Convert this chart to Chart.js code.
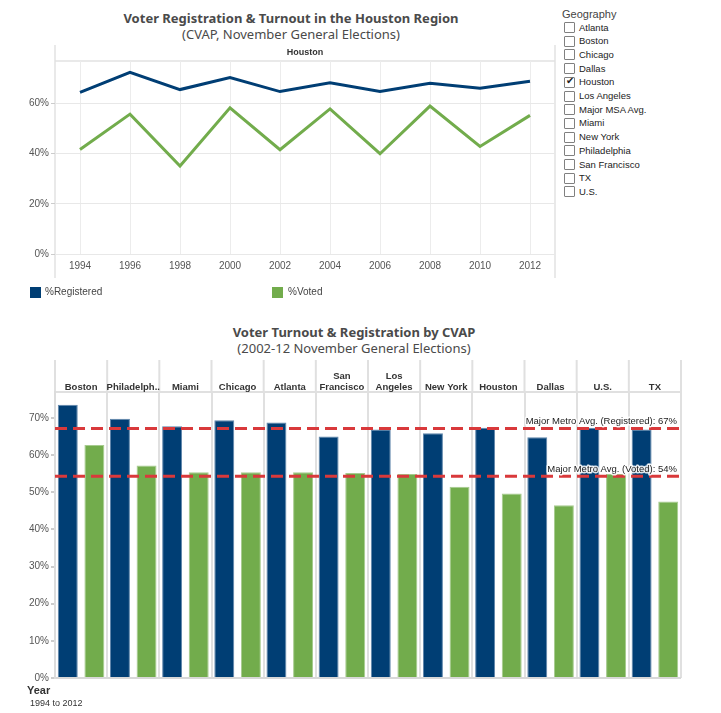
<!DOCTYPE html>
<html>
<head>
<meta charset="utf-8">
<script src="https://cdn.jsdelivr.net/npm/chart.js@4.4.0/dist/chart.umd.min.js"></script>
<style>
  body { margin: 0; background: #fff; width: 721px; height: 713px; position: relative; overflow: hidden; font-family: "Liberation Sans", Arial, sans-serif; }
  .abs { position: absolute; white-space: nowrap; }
  .title { font-family: "Noto Sans", sans-serif; font-size: 13px; color: #4a4a4a; text-align: center; line-height: 16px; }
  .title b { font-weight: 700; }
  #topCanvas { position: absolute; left: 0; top: 0; }
  #bottomCanvas { position: absolute; left: 0; top: 300px; }
  .geo { font-size: 9.5px; color: #222; }
  .box { position: absolute; width: 9px; height: 9px; border: 1px solid #808080; border-radius: 1px; background: #fff; }
  .swatch { position: absolute; width: 11px; height: 11px; }
</style>
</head>
<body>

<div class="abs title" style="left:91px; top:10px; width:400px;"><b>Voter Registration &amp; Turnout in the Houston Region</b><br>(CVAP, November General Elections)</div>
<div class="abs title" style="left:154px; top:324px; width:400px;"><b>Voter Turnout &amp; Registration by CVAP</b><br>(2002-12 November General Elections)</div>

<canvas id="topCanvas" width="560" height="300"></canvas>
<canvas id="bottomCanvas" width="721" height="413"></canvas>

<div id="geoPanel"></div>

<div class="swatch" style="left:30px; top:287px; background:#003e74;"></div>
<div class="abs" style="left:45px; top:286px; font-size:10px; color:#444;">%Registered</div>
<div class="swatch" style="left:272px; top:287px; background:#72ac4c;"></div>
<div class="abs" style="left:288px; top:286px; font-size:10px; color:#444;">%Voted</div>

<div class="abs" style="left:27px; top:684px; font-size:11px; font-weight:bold; color:#333;">Year</div>
<div class="abs" style="left:30px; top:698px; font-size:9px; color:#333;">1994 to 2012</div>

<script>
// ---- data: Houston trend ----
const years = ['1994', '1996', '1998', '2000', '2002', '2004', '2006', '2008', '2010', '2012'];
const houstonRegistered = [64.5, 72.5, 65.6, 70.4, 64.8, 68.3, 64.8, 68.1, 66.1, 68.9];
const houstonVoted = [41.7, 55.8, 35.1, 58.3, 41.6, 57.9, 40.0, 59.0, 42.9, 55.3];
const topTicks = [0, 20, 40, 60];

// ---- data: by geography ----
const regions = ['Boston', 'Philadelph..', 'Miami', 'Chicago', 'Atlanta', ['San', 'Francisco'],
                 ['Los', 'Angeles'], 'New York', 'Houston', 'Dallas', 'U.S.', 'TX'];
const regRegistered = [73.6, 69.8, 67.8, 69.4, 68.8, 65.0, 66.9, 65.9, 67.4, 64.8, 67.4, 66.9];
const regVoted = [62.7, 57.2, 55.4, 55.4, 55.4, 55.2, 54.9, 51.5, 49.7, 46.5, 54.9, 47.5];
const bottomTicks = [0, 10, 20, 30, 40, 50, 60, 70];
const avgValues = [67.2, 54.3];
const avgLabels = ['Major Metro Avg. (Registered): 67%', 'Major Metro Avg. (Voted): 54%'];

// ---- filter list ----
const geographies = ['Atlanta', 'Boston', 'Chicago', 'Dallas', 'Houston', 'Los Angeles', 'Major MSA Avg.',
                     'Miami', 'New York', 'Philadelphia', 'San Francisco', 'TX', 'U.S.'];
const selectedGeo = 'Houston';

const NAVY = '#003e74';
const GREEN = '#72ac4c';
const tickFont = { family: 'Liberation Sans', size: 10 };

// filter panel
(function () {
    const panel = document.getElementById('geoPanel');
    let html = '<div class="abs" style="left:562px; top:8px; font-size:11px; color:#444;">Geography</div>';
    geographies.forEach((g, i) => {
        const top = 22 + i * 13.7;
        const mark = g === selectedGeo ? '<span style="position:absolute;left:1px;top:-3px;font-size:10px;color:#222;">&#10004;</span>' : '';
        html += `<div class="box" style="left:564px; top:${top}px;">${mark}</div>`;
        html += `<div class="abs geo" style="left:579px; top:${top - 0.5}px;">${g}</div>`;
    });
    panel.innerHTML = html;
})();

// top chart: pane borders + header
const topFrame = {
    id: 'topFrame',
    beforeDraw(chart) {
        const { ctx, chartArea: a } = chart;
        ctx.save();
        ctx.strokeStyle = '#e2e2e2';
        ctx.lineWidth = 1.5;
        ctx.beginPath();
        ctx.moveTo(a.left, 45); ctx.lineTo(a.left, 278);
        ctx.moveTo(a.right, 45); ctx.lineTo(a.right, 278);
        ctx.moveTo(a.left, a.top); ctx.lineTo(a.right, a.top);
        ctx.stroke();
        ctx.fillStyle = '#333';
        ctx.font = 'bold 9px "Liberation Sans"';
        ctx.textAlign = 'center';
        ctx.textBaseline = 'middle';
        ctx.fillText(selectedGeo, (a.left + a.right) / 2, 53);
        ctx.restore();
    }
};

new Chart(document.getElementById('topCanvas'), {
    type: 'line',
    data: {
        labels: years,
        datasets: [
            { label: '%Registered', data: houstonRegistered, borderColor: NAVY, borderWidth: 3, pointRadius: 0, tension: 0 },
            { label: '%Voted', data: houstonVoted, borderColor: GREEN, borderWidth: 3, pointRadius: 0, tension: 0 }
        ]
    },
    options: {
        responsive: false,
        animation: false,
        layout: { padding: { top: 61, right: 5, left: 0, bottom: 0 } },
        plugins: { legend: { display: false }, tooltip: { enabled: false } },
        scales: {
            x: {
                offset: true,
                grid: { color: '#ececec', offset: false, drawTicks: false },
                border: { display: false },
                ticks: { color: '#555', font: tickFont, padding: 6 },
                afterFit: s => { s.height = 46; }
            },
            y: {
                min: 0, max: 77,
                afterBuildTicks: s => { s.ticks = topTicks.map(v => ({ value: v })); },
                grid: { color: '#e8e8e8', tickLength: 4, tickColor: '#ccc' },
                border: { display: false },
                ticks: { color: '#555', font: tickFont, padding: 2, callback: v => v + '%' },
                afterFit: s => { s.width = 55; }
            }
        }
    },
    plugins: [topFrame]
});

// bottom chart: headers + average lines
const bottomDecor = {
    id: 'bottomDecor',
    beforeDraw(chart) {
        const { ctx, chartArea: a } = chart;
        const xs = chart.scales.x;
        const half = (xs.getPixelForValue(1) - xs.getPixelForValue(0)) / 2;
        ctx.save();
        ctx.strokeStyle = '#e0e0e0';
        ctx.lineWidth = 2;
        ctx.beginPath();
        for (let i = 0; i <= regions.length; i++) {
            const x = xs.getPixelForValue(0) - half + i * half * 2;
            ctx.moveTo(x, 60); ctx.lineTo(x, a.top);
        }
        ctx.moveTo(a.left, a.top); ctx.lineTo(a.right, a.top);
        ctx.stroke();
        ctx.fillStyle = '#333';
        ctx.font = 'bold 9.5px "Liberation Sans"';
        ctx.textAlign = 'center';
        ctx.textBaseline = 'middle';
        regions.forEach((r, i) => {
            const x = xs.getPixelForValue(i);
            const lines = Array.isArray(r) ? r : [r];
            lines.forEach((t, j) => {
                ctx.fillText(t, x, 87 - (lines.length - 1 - j) * 11);
            });
        });
        ctx.restore();
    },
    afterDatasetsDraw(chart) {
        const { ctx, chartArea: a } = chart;
        const ys = chart.scales.y;
        ctx.save();
        avgValues.forEach((v, i) => {
            const y = ys.getPixelForValue(v);
            ctx.strokeStyle = '#d9393b';
            ctx.lineWidth = 3;
            ctx.setLineDash([12, 6]);
            ctx.beginPath();
            ctx.moveTo(a.left, y); ctx.lineTo(a.right, y);
            ctx.stroke();
            ctx.setLineDash([]);
            ctx.font = '9.5px "Liberation Sans"';
            ctx.textAlign = 'right';
            ctx.textBaseline = 'middle';
            ctx.lineJoin = 'round';
            ctx.lineWidth = 3;
            ctx.strokeStyle = 'rgba(255,255,255,0.85)';
            ctx.strokeText(avgLabels[i], a.right - 4, y - 7);
            ctx.fillStyle = '#222';
            ctx.fillText(avgLabels[i], a.right - 4, y - 7);
        });
        ctx.restore();
    }
};

new Chart(document.getElementById('bottomCanvas'), {
    type: 'bar',
    data: {
        labels: regions,
        datasets: [
            { label: '%Registered', data: regRegistered, backgroundColor: NAVY, borderColor: '#5f86ab', borderWidth: 1 },
            { label: '%Voted', data: regVoted, backgroundColor: GREEN, borderColor: '#a6cb8e', borderWidth: 1 }
        ]
    },
    options: {
        responsive: false,
        animation: false,
        categoryPercentage: 1.02,
        barPercentage: 0.75,
        layout: { padding: { top: 92, right: 40, left: 0, bottom: 35 } },
        plugins: { legend: { display: false }, tooltip: { enabled: false } },
        scales: {
            x: {
                position: 'top',
                grid: { color: '#e0e0e0', lineWidth: 2, offset: true, drawTicks: false },
                border: { display: false },
                ticks: { display: false },
                afterFit: s => { s.height = 0; }
            },
            y: {
                min: 0, max: 77,
                afterBuildTicks: s => { s.ticks = bottomTicks.map(v => ({ value: v })); },
                grid: {
                    color: c => (c.tick && c.tick.value === 0 ? '#d8d8d8' : 'rgba(0,0,0,0)'),
                    lineWidth: 2, tickLength: 4, tickColor: '#ccc'
                },
                border: { display: true, color: '#dcdcdc', width: 2 },
                ticks: { color: '#555', font: tickFont, padding: 2, callback: v => v + '%' },
                afterFit: s => { s.width = 55; }
            }
        }
    },
    plugins: [bottomDecor]
});
</script>
</body>
</html>
